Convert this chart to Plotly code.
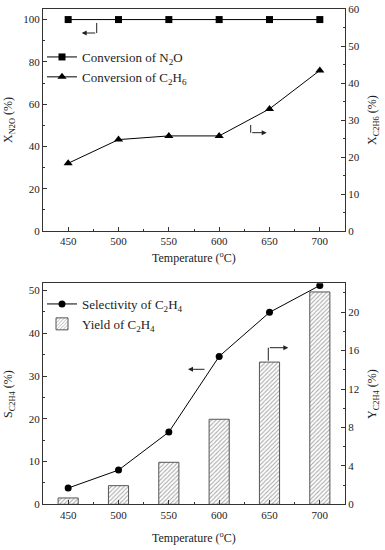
import plotly.graph_objects as go

temps = [450, 500, 550, 600, 650, 700]
conv_n2o = [100, 100, 100, 100, 100, 100]
conv_c2h6 = [18.3, 24.7, 25.7, 25.7, 33.0, 43.4]
sel_c2h4 = [3.8, 8.0, 16.9, 34.6, 44.9, 51.2]
yield_c2h4 = [0.66, 1.94, 4.37, 8.85, 14.8, 22.1]

FONT = "Liberation Serif"
W, H = 385, 550
xd = [43 / W, 345 / W]
top_dom = [1 - 231 / H, 1 - 9 / H]
bot_dom = [1 - 504.3 / H, 1 - 283.3 / H]

fig = go.Figure()

fig.add_trace(go.Scatter(x=temps, y=conv_n2o, mode="lines+markers", name="Conversion of N<sub>2</sub>O",
                         line=dict(color="black", width=1), marker=dict(symbol="square", size=7, color="black"),
                         xaxis="x", yaxis="y", legend="legend"))
fig.add_trace(go.Scatter(x=temps, y=conv_c2h6, mode="lines+markers", name="Conversion of C<sub>2</sub>H<sub>6</sub>",
                         line=dict(color="black", width=1), marker=dict(symbol="triangle-up", size=8, color="black"),
                         xaxis="x", yaxis="y2", legend="legend"))

fig.add_trace(go.Bar(x=temps, y=yield_c2h4, width=20, name="Yield of C<sub>2</sub>H<sub>4</sub>",
                     marker=dict(color="white", line=dict(color="#555", width=1),
                                 pattern=dict(shape="/", fgcolor="#555", bgcolor="white", size=3, solidity=0.35)),
                     xaxis="x2", yaxis="y4", legend="legend2"))
fig.add_trace(go.Scatter(x=temps, y=sel_c2h4, mode="lines+markers", name="Selectivity of C<sub>2</sub>H<sub>4</sub>",
                         line=dict(color="black", width=1), marker=dict(symbol="circle", size=7, color="black"),
                         xaxis="x2", yaxis="y3", legend="legend2"))

axcommon = dict(showline=True, linecolor="#333", linewidth=1, ticks="inside", ticklen=4, tickcolor="#333",
                showgrid=False, zeroline=False, automargin=False,
                tickfont=dict(family=FONT, size=11, color="#222"))

fig.update_layout(
    width=W, height=H, margin=dict(l=0, r=0, t=0, b=0),
    paper_bgcolor="white", plot_bgcolor="white",
    font=dict(family=FONT, color="#222"),
    barmode="overlay",
    xaxis=dict(domain=xd, anchor="y", range=[425, 725], tickvals=temps, mirror=True,
               minor=dict(dtick=25, tick0=425, ticks="inside", ticklen=2, tickcolor="#333"), **axcommon),
    yaxis=dict(domain=top_dom, anchor="x", range=[0, 105], tickvals=[0, 20, 40, 60, 80, 100],
               minor=dict(dtick=10, ticks="inside", ticklen=2, tickcolor="#333"), **axcommon),
    yaxis2=dict(domain=top_dom, anchor="x", overlaying="y", side="right", range=[0, 60],
                tickvals=[0, 10, 20, 30, 40, 50, 60],
                minor=dict(dtick=5, ticks="inside", ticklen=2, tickcolor="#333"), **axcommon),
    xaxis2=dict(domain=xd, anchor="y3", range=[425, 725], tickvals=temps, mirror=True,
                minor=dict(dtick=25, tick0=425, ticks="inside", ticklen=2, tickcolor="#333"), **axcommon),
    yaxis3=dict(domain=bot_dom, anchor="x2", range=[0, 51.7], tickvals=[0, 10, 20, 30, 40, 50],
                minor=dict(dtick=5, ticks="inside", ticklen=2, tickcolor="#333"), **axcommon),
    yaxis4=dict(domain=bot_dom, anchor="x2", overlaying="y3", side="right", range=[0, 23],
                tickvals=[0, 4, 8, 12, 16, 20],
                minor=dict(dtick=2, ticks="inside", ticklen=2, tickcolor="#333"), **axcommon),
    legend=dict(x=42 / W, y=1 - 42 / H, xanchor="left", yanchor="top", bgcolor="rgba(0,0,0,0)",
                font=dict(family=FONT, size=13, color="#222"), tracegroupgap=0, itemwidth=30),
    legend2=dict(x=42 / W, y=1 - 289 / H, xanchor="left", yanchor="top", bgcolor="rgba(0,0,0,0)",
                 font=dict(family=FONT, size=13, color="#222"), tracegroupgap=0, itemwidth=30,
                 traceorder="reversed"),
)

def px(x, y):
    return x / W, 1 - y / H

lc = "#222"
shapes = []
ann = []

# axis titles
tf = dict(family=FONT, size=12, color="#222")
for (xx, yy, txt, ang) in [
    (9, 120, "X<sub>N2O</sub> (%)", -90),
    (373, 120, "X<sub>C2H6</sub> (%)", -90),
    (194, 257, "Temperature (<sup>o</sup>C)", 0),
    (9, 394, "S<sub>C2H4</sub> (%)", -90),
    (373, 394, "Y<sub>C2H4</sub> (%)", -90),
    (194, 537, "Temperature (<sup>o</sup>C)", 0),
]:
    ax_, ay_ = px(xx, yy)
    ann.append(dict(xref="paper", yref="paper", x=ax_, y=ay_, text=txt, textangle=ang, showarrow=False,
                    xanchor="center", yanchor="middle", font=tf))

# top left bent arrow
x0, y0 = px(96.7, 23); x1, y1 = px(96.7, 33)
shapes.append(dict(type="line", xref="paper", yref="paper", x0=x0, y0=y0, x1=x1, y1=y1, line=dict(color=lc, width=1)))
hx, hy = px(81.7, 33)
ann.append(dict(xref="paper", yref="paper", x=hx, y=hy, ax=15, ay=0, text="", showarrow=True,
                arrowhead=2, arrowsize=1, arrowwidth=1, arrowcolor=lc))
# top right bent arrow
x0, y0 = px(250.7, 125); x1, y1 = px(250.7, 132.7)
shapes.append(dict(type="line", xref="paper", yref="paper", x0=x0, y0=y0, x1=x1, y1=y1, line=dict(color=lc, width=1)))
hx, hy = px(266.7, 132.7)
ann.append(dict(xref="paper", yref="paper", x=hx, y=hy, ax=-16, ay=0, text="", showarrow=True,
                arrowhead=2, arrowsize=1, arrowwidth=1, arrowcolor=lc))
# bottom left arrow
hx, hy = px(188, 369.3)
ann.append(dict(xref="paper", yref="paper", x=hx, y=hy, ax=18, ay=0, text="", showarrow=True,
                arrowhead=2, arrowsize=1, arrowwidth=1, arrowcolor=lc))
# bottom right bent arrow
x0, y0 = px(268.3, 360.7); x1, y1 = px(268.3, 347.7)
shapes.append(dict(type="line", xref="paper", yref="paper", x0=x0, y0=y0, x1=x1, y1=y1, line=dict(color=lc, width=1)))
hx, hy = px(288.3, 347.7)
ann.append(dict(xref="paper", yref="paper", x=hx, y=hy, ax=-20, ay=0, text="", showarrow=True,
                arrowhead=2, arrowsize=1, arrowwidth=1, arrowcolor=lc))

fig.update_layout(shapes=shapes, annotations=ann)

fig.write_html("out.html", config={"displayModeBar": False},
               post_script="document.body.style.margin='0';document.body.style.padding='0';document.body.style.overflow='hidden';")
